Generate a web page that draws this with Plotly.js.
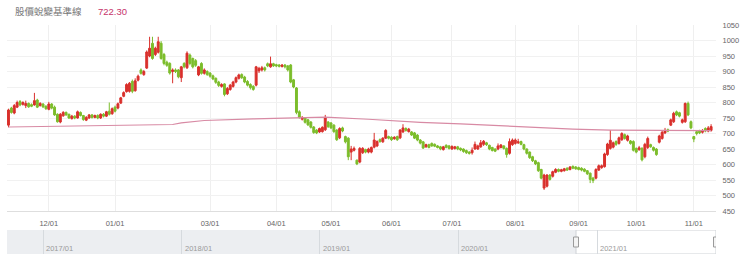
<!DOCTYPE html>
<html><head><meta charset="utf-8">
<script src="https://cdn.plot.ly/plotly-3.0.1.min.js"></script>
<style>html,body{margin:0;padding:0;background:#fff;}#chart{width:740px;height:267px;}</style>
</head><body><div id="chart"></div>
<script>
const titleText = '股價蛻變基準線';
const openP = [727,782,766,785,803,794,790,797,793,792, 808,790,795,788,778,795,785,762,737,757,
 768,762,748,756,750,768,758,743,750,760, 752,758,750,762,756,772,764,785,782,798,
 820,835,836,868,838,872,905,890,911,950, 991,955,962,991,955,930,926,900,905,905,
 880,926,912,953,942,935,889,926,894,900, 895,886,878,866,852,860,828,842,852,866,
 878,890,882,868,858,852,856,902,905,912, 925,915,925,922,921,916,921,918,921,873,
 847,770,746,750,744,737,721,711,705,706, 712,737,734,727,711,686,718,690,685,640,
 646,614,608,638,648,640,640,656,660,680, 673,685,690,688,683,690,686,705,716,706,
 705,702,695,679,673,657,664,668,665,660, 657,648,662,660,650,652,657,652,650,645,
 640,638,650,650,657,665,670,662,655,650, 650,655,660,652,636,664,668,670,674,664,
 650,640,625,612,606,584,524,530,566,562, 575,584,578,580,588,584,594,592,590,588,
 585,580,572,556,556,582,590,593,632,652, 656,674,668,680,696,678,676,674,652,648,
 652,625,655,664,655,650,672,684,702,712, 727,738,770,767,736,738,797,738,690,706,
 708,704,716,708,710];
const highP = [780,786,795,806,808,804,806,800,797,831, 812,801,798,791,802,798,790,765,766,772,
 771,764,760,759,774,771,760,756,763,763, 761,762,765,766,773,800,784,790,800,818,
 836,862,866,874,878,890,910,905,968,1012, 1012,980,1012,998,960,935,930,910,910,908,
 918,930,965,958,945,940,918,930,910,904, 898,890,881,870,862,862,850,860,870,884,
 893,894,886,872,862,856,918,915,918,916, 929,948,928,925,924,924,924,921,924,876,
 850,775,756,753,747,740,724,714,719,723, 760,740,737,730,714,720,722,693,688,660,
 658,616,656,656,651,654,658,702,678,684, 688,714,693,691,691,693,714,730,720,718,
 708,705,698,682,676,667,667,671,668,663, 660,660,665,663,662,660,660,655,652,648,
 643,655,674,664,679,679,673,664,657,652, 668,666,662,655,684,684,684,683,677,667,
 652,642,628,615,609,586,570,569,569,580, 588,587,586,589,591,595,597,595,593,591,
 588,582,574,560,588,600,600,638,670,711, 674,678,690,704,700,696,679,678,655,660,
 656,670,690,667,658,653,696,708,718,716, 748,770,774,770,748,800,803,742,692,710,
 712,714,720,724,730];
const lowP = [720,764,762,782,788,790,782,783,785,790, 782,787,782,776,775,778,757,735,733,754,
 757,747,745,746,748,755,741,740,747,748, 749,746,747,752,753,758,760,768,778,795,
 817,832,832,830,835,868,890,886,908,946, 938,950,958,938,920,915,890,862,895,878,
 866,910,908,920,910,915,885,890,890,886, 880,872,860,850,848,820,824,838,848,862,
 874,876,862,852,842,838,852,895,900,900, 914,912,915,914,913,913,910,900,862,846,
 762,748,742,732,724,716,699,698,702,703, 708,718,714,702,676,682,704,668,614,614,
 642,598,604,634,636,636,636,652,656,670, 670,682,681,676,680,676,682,702,706,703,
 692,682,675,665,650,654,652,657,656,652, 646,645,652,648,647,648,646,643,638,634,
 632,632,648,647,654,660,660,646,642,640, 646,652,648,622,632,660,664,666,662,646,
 632,618,608,598,576,552,518,526,548,558, 572,575,575,577,579,581,585,583,581,578,
 575,566,540,540,552,579,586,590,628,648, 652,660,664,676,680,674,664,642,636,644,
 610,620,650,654,642,628,668,680,698,704, 724,734,756,752,732,734,756,714,672,694,
 698,700,704,704,706];
const closeP = [776,768,790,800,792,800,797,786,788,806, 785,797,786,780,795,782,760,738,762,768,
 760,750,756,750,770,758,745,752,760,752, 758,750,762,756,770,762,780,772,796,815,
 832,858,862,836,870,885,894,900,963,975, 942,975,996,942,926,920,895,905,900,883,
 915,915,959,926,915,920,915,894,905,890, 885,876,865,855,858,826,845,856,866,880,
 889,880,866,856,848,842,915,910,912,905, 918,925,918,918,917,921,915,905,866,850,
 768,752,752,736,728,720,703,702,716,720, 750,722,718,706,680,716,708,673,625,650,
 652,602,652,652,640,650,655,679,674,674, 685,710,685,680,688,680,711,718,710,714,
 695,685,679,669,653,664,655,660,659,655, 650,657,655,652,658,657,650,647,642,638,
 636,646,665,660,670,675,664,650,645,643, 660,663,652,632,674,679,679,673,665,650,
 636,622,612,602,580,556,566,566,552,577, 584,578,583,586,582,592,588,586,584,582,
 578,570,552,548,584,596,596,634,666,678, 670,665,686,700,684,692,668,646,640,654,
 615,665,684,657,646,632,692,704,710,708, 744,765,760,756,744,797,760,718,682,700,
 702,710,708,718,722.3];

// baseline (long moving average) sampled along the trading-day index
const maIdx = [0, 20, 40, 57, 60, 68, 85, 101, 110, 125, 143, 157, 173, 184, 196, 209, 233, 244];
const maVal = [721, 723, 725, 729, 734, 742, 747, 751, 753, 746, 736, 731, 724, 717, 714, 711, 711, 709];

// x-axis month ticks (trading-day index) and labels
const tickIdx = [14, 37, 70, 93, 112, 133, 154, 176, 198, 218, 238];
const tickText = ['12/01','01/01','03/01','04/01','05/01','06/01','07/01','08/01','09/01','10/01','11/01'];

// navigator (overview) axis
const navRange = ['2016-09-28', '2021-11-10'];
const navWindow = ['2020-11-06', '2021-11-10'];
const navYears = ['2017-01-01','2018-01-01','2019-01-01','2020-01-01','2021-01-01'];
const navYearText = ['2017/01','2018/01','2019/01','2020/01','2021/01'];

const idx = closeP.map((_, i) => i);
const RED = '#d9302c', GREEN = '#7cbd2b';
const tickFont = {family: 'Liberation Sans, Arial, sans-serif', size: 7.5, color: '#666'};

const traces = [
  {
    type: 'candlestick', x: idx, open: openP, high: highP, low: lowP, close: closeP,
    xaxis: 'x', yaxis: 'y',
    increasing: {line: {color: RED, width: 1}, fillcolor: RED},
    decreasing: {line: {color: GREEN, width: 1}, fillcolor: GREEN},
    whiskerwidth: 0, hoverinfo: 'skip'
  },
  {
    type: 'scatter', mode: 'lines', x: maIdx, y: maVal, xaxis: 'x', yaxis: 'y',
    line: {color: '#d88aa4', width: 1.2}, hoverinfo: 'skip'
  }
];

const H = 267, T = 25, B = 13, plotH = H - T - B;
const mainBottom = (H - B - 211) / plotH;
const navTop = (H - B - 230) / plotH;

const shapes = [
  {type: 'rect', xref: 'x2', yref: 'y2', x0: navRange[0], x1: navWindow[0], y0: 0, y1: 1,
   fillcolor: '#eceef1', line: {width: 0}, layer: 'below'},
  {type: 'rect', xref: 'x2', yref: 'y2', x0: navWindow[0], x1: navWindow[1], y0: 0, y1: 1,
   fillcolor: '#ffffff', line: {color: '#cfd2d6', width: 1}, layer: 'below'}
];
navWindow.forEach(d => shapes.push({
  type: 'rect', xref: 'x2', yref: 'y2', xsizemode: 'pixel', ysizemode: 'pixel',
  xanchor: d, yanchor: 0.5, x0: -2.5, x1: 2.5, y0: -5, y1: 5,
  fillcolor: '#f4f4f4', line: {color: '#9a9a9a', width: 1}, layer: 'above'
}));

const annotations = [
  {xref: 'paper', yref: 'paper', x: (13 - 7) / 709, y: (H - B - 11) / plotH, xanchor: 'left', yanchor: 'middle',
   text: titleText, showarrow: false, font: {family: 'Noto Sans CJK TC, sans-serif', size: 9.5, color: '#777'}},
  {xref: 'paper', yref: 'paper', x: (96 - 7) / 709, y: (H - B - 11) / plotH, xanchor: 'left', yanchor: 'middle',
   text: closeP[closeP.length - 1].toFixed(2), showarrow: false,
   font: {family: 'Liberation Sans, Arial, sans-serif', size: 9.5, color: '#c6336a'}}
];
navYears.forEach((d, k) => annotations.push({
  xref: 'x2', yref: 'y2', x: d, y: 0.21, xanchor: 'left', yanchor: 'middle', xshift: 1,
  text: navYearText[k], showarrow: false, font: {family: 'Liberation Sans, Arial, sans-serif', size: 7.5, color: '#9a9a9a'}
}));

const layout = {
  width: 740, height: 267,
  margin: {l: 7, r: 24, t: T, b: B},
  paper_bgcolor: '#fff', plot_bgcolor: '#fff',
  showlegend: false, boxgap: 0.05,
  xaxis: {
    anchor: 'y', domain: [0, 1], range: [-0.52, 245.7], rangeslider: {visible: false},
    tickmode: 'array', tickvals: tickIdx, ticktext: tickText, tickfont: tickFont,
    ticks: 'outside', ticklen: 5, tickcolor: 'rgba(0,0,0,0)',
    showgrid: true, gridcolor: '#efefef', gridwidth: 1,
    showline: true, linecolor: '#dedede', linewidth: 1, zeroline: false, fixedrange: true
  },
  yaxis: {
    domain: [mainBottom, 1], range: [450, 1050], side: 'right', anchor: 'x',
    tickmode: 'linear', tick0: 450, dtick: 50, tickfont: tickFont,
    ticks: 'outside', ticklen: 4, tickcolor: 'rgba(0,0,0,0)',
    showgrid: true, gridcolor: '#f1f1f1', zeroline: false, showline: false, fixedrange: true
  },
  xaxis2: {
    anchor: 'y2', domain: [0, 1], type: 'date', range: navRange,
    tickmode: 'array', tickvals: navYears, showticklabels: false, ticks: '',
    showgrid: true, gridcolor: '#d6dade', gridwidth: 1, showline: false, zeroline: false, fixedrange: true
  },
  yaxis2: {
    domain: [0, navTop], range: [0, 1], anchor: 'x2', visible: false, fixedrange: true
  },
  shapes: shapes,
  annotations: annotations
};

Plotly.newPlot('chart', traces, layout, {staticPlot: true, displayModeBar: false});
</script></body></html>
